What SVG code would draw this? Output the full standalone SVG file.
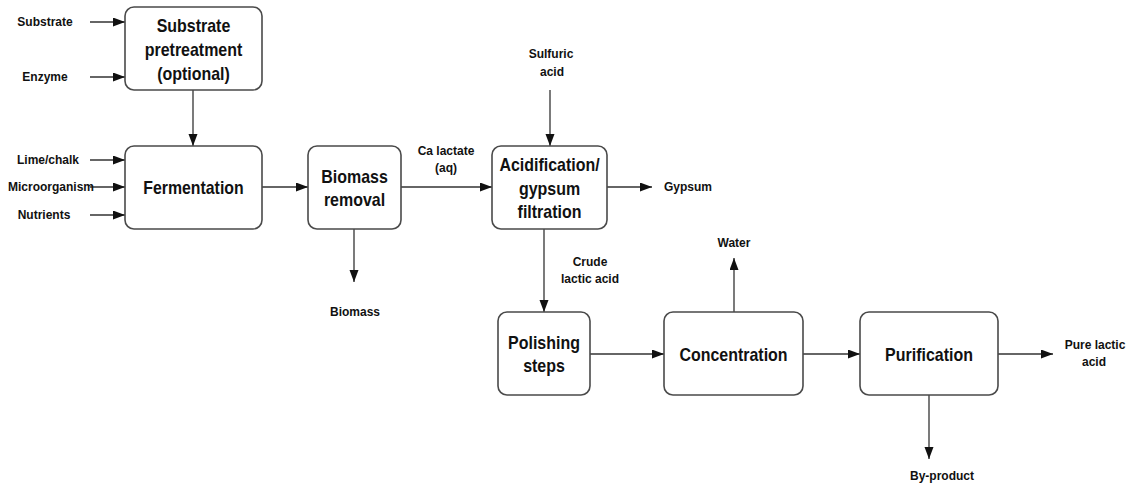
<svg xmlns="http://www.w3.org/2000/svg" width="1133" height="483" viewBox="0 0 1133 483">
<style>
.box{fill:#fff;stroke:#4a4a4a;stroke-width:1.6}
.n{font-family:"Liberation Sans",Arial,sans-serif;font-weight:bold;font-size:19px;fill:#111;text-anchor:middle}
.l{font-family:"Liberation Sans",Arial,sans-serif;font-weight:bold;font-size:12px;fill:#111;text-anchor:middle}
.c{stroke:#333;stroke-width:1.3;fill:none;marker-end:url(#ah)}
</style>
<defs>
<marker id="ah" markerUnits="userSpaceOnUse" markerWidth="13" markerHeight="10" refX="12" refY="4.5" orient="auto">
<path d="M0,0 L12,4.5 L0,9 z" fill="#111"/>
</marker>
</defs>
<rect width="1133" height="483" fill="#fff"/>
<g id="connectors">
<line class="c" x1="90" y1="22" x2="125" y2="22"/>
<line class="c" x1="90" y1="77" x2="125" y2="77"/>
<line class="c" x1="90" y1="160" x2="125" y2="160"/>
<line class="c" x1="90" y1="187" x2="125" y2="187"/>
<line class="c" x1="90" y1="215" x2="125" y2="215"/>
<line class="c" x1="193" y1="90" x2="193" y2="146"/>
<line class="c" x1="262" y1="187" x2="308" y2="187"/>
<line class="c" x1="401" y1="187" x2="492" y2="187"/>
<line class="c" x1="354" y1="229" x2="354" y2="282"/>
<line class="c" x1="550" y1="90" x2="550" y2="146"/>
<line class="c" x1="607" y1="187" x2="652" y2="187"/>
<line class="c" x1="544" y1="229" x2="544" y2="312"/>
<line class="c" x1="590" y1="354" x2="664" y2="354"/>
<line class="c" x1="734" y1="312" x2="734" y2="258"/>
<line class="c" x1="803" y1="354" x2="860" y2="354"/>
<line class="c" x1="998" y1="354" x2="1053" y2="354"/>
<line class="c" x1="929" y1="395" x2="929" y2="459"/>
</g>
<g id="labels">
<text class="l" x="45" y="26">Substrate</text>
<text class="l" x="45" y="81">Enzyme</text>
<text class="l" x="48" y="164">Lime/chalk</text>
<text class="l" x="51" y="191">Microorganism</text>
<text class="l" x="44" y="219">Nutrients</text>
<text class="l" x="446" y="155">Ca lactate</text>
<text class="l" x="446" y="172">(aq)</text>
<text class="l" x="355" y="316">Biomass</text>
<text class="l" x="551" y="58">Sulfuric</text>
<text class="l" x="552" y="76">acid</text>
<text class="l" x="688" y="191">Gypsum</text>
<text class="l" x="590" y="266">Crude</text>
<text class="l" x="590" y="283">lactic acid</text>
<text class="l" x="734" y="247">Water</text>
<text class="l" x="1095" y="349">Pure lactic</text>
<text class="l" x="1094" y="366">acid</text>
<text class="l" x="942" y="480">By-product</text>
</g>
<g id="pretreatment">
<rect class="box" x="125" y="7" width="137" height="83" rx="9"/>
<text class="n" x="193.5" y="31.5" textLength="73.6" lengthAdjust="spacingAndGlyphs">Substrate</text>
<text class="n" x="193.5" y="55.5" textLength="97.5" lengthAdjust="spacingAndGlyphs">pretreatment</text>
<text class="n" x="193.5" y="79.5" textLength="72.7" lengthAdjust="spacingAndGlyphs">(optional)</text>
</g>
<g id="fermentation">
<rect class="box" x="125" y="146" width="137" height="83" rx="9"/>
<text class="n" x="193.5" y="194" textLength="100.3" lengthAdjust="spacingAndGlyphs">Fermentation</text>
</g>
<g id="biomass-removal">
<rect class="box" x="308" y="146" width="93" height="83" rx="9"/>
<text class="n" x="354.5" y="182.5" textLength="66.5" lengthAdjust="spacingAndGlyphs">Biomass</text>
<text class="n" x="354.5" y="205.5" textLength="61.2" lengthAdjust="spacingAndGlyphs">removal</text>
</g>
<g id="acidification">
<rect class="box" x="492" y="146" width="115" height="83" rx="9"/>
<text class="n" x="549.5" y="171" textLength="100.2" lengthAdjust="spacingAndGlyphs">Acidification/</text>
<text class="n" x="549.5" y="194.5" textLength="61.2" lengthAdjust="spacingAndGlyphs">gypsum</text>
<text class="n" x="549.5" y="218" textLength="63.8" lengthAdjust="spacingAndGlyphs">filtration</text>
</g>
<g id="polishing">
<rect class="box" x="498" y="312" width="92" height="83" rx="9"/>
<text class="n" x="544" y="349" textLength="71.8" lengthAdjust="spacingAndGlyphs">Polishing</text>
<text class="n" x="544" y="372" textLength="41.7" lengthAdjust="spacingAndGlyphs">steps</text>
</g>
<g id="concentration">
<rect class="box" x="664" y="312" width="139" height="83" rx="9"/>
<text class="n" x="733.5" y="360.5" textLength="108.2" lengthAdjust="spacingAndGlyphs">Concentration</text>
</g>
<g id="purification">
<rect class="box" x="860" y="312" width="138" height="83" rx="9"/>
<text class="n" x="929" y="360.5" textLength="87.8" lengthAdjust="spacingAndGlyphs">Purification</text>
</g>
</svg>
